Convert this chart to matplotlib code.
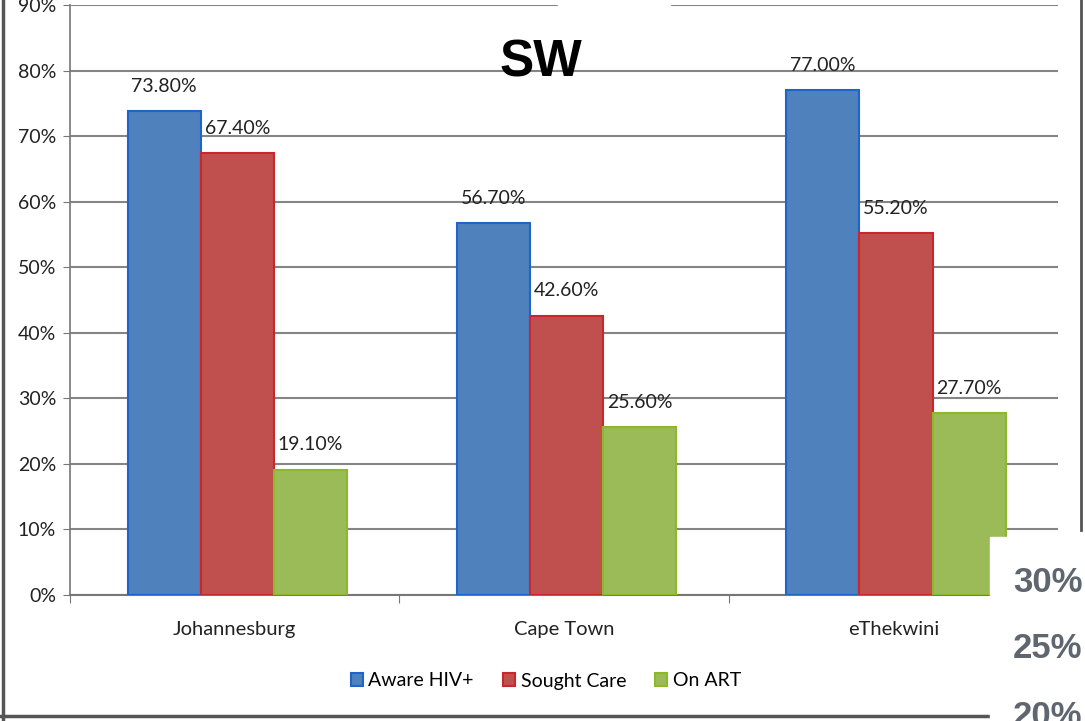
import matplotlib.pyplot as plt
from matplotlib.patches import Rectangle
from matplotlib.lines import Line2D
import numpy as np

cities = ["Johannesburg", "Cape Town", "eThekwini"]
series = ["Aware HIV+", "Sought Care", "On ART"]
aware = [73.8, 56.7, 77.0]
sought = [67.4, 42.6, 55.2]
on_art = [19.1, 25.6, 27.7]
yticks = [0, 10, 20, 30, 40, 50, 60, 70, 80, 90]
overlay_labels = ["30%", "25%", "20%"]

fills = ["#4F81BD", "#C0504D", "#9BBB59"]
edges = ["#1F64C8", "#C8282D", "#8DB82A"]

plt.rcParams['font.family'] = ['Lato', 'DejaVu Sans']

fig = plt.figure(figsize=(10.85, 7.21), dpi=100)
ax = fig.add_axes([70/1085, 126/721, 988/1085, 590/721])

x = np.arange(len(cities))
w = 0.222
for k, vals in enumerate([aware, sought, on_art]):
    pos = x + (k - 1) * w + 0.008
    ax.bar(pos, vals, width=w, color=fills[k], edgecolor=edges[k],
           linewidth=1.5, label=series[k], zorder=3)
    for xp, v in zip(pos, vals):
        ax.text(xp, v + 3.8, f"{v:.2f}%", ha='center', va='center',
                fontsize=14, color='#222222', zorder=4)

ax.set_xlim(-0.5, 2.5)
ax.set_ylim(0, 90)
ax.set_yticks(yticks)
ax.set_yticklabels([f"{t}%" for t in yticks], fontsize=14, color='#222222')
ax.tick_params(axis='y', length=5, color='#777777', pad=5)
ax.yaxis.grid(True, color='#858585', linewidth=1.5, zorder=0)
ax.set_axisbelow(True)

ax.set_xticks([-0.5, 0.5, 1.5, 2.5])
ax.set_xticklabels([])
ax.tick_params(axis='x', which='major', length=6, color='#777777')
ax.set_xticks(x, minor=True)
ax.set_xticklabels(cities, minor=True, fontsize=14.5, color='#222222')
ax.tick_params(axis='x', which='minor', length=0, pad=19)

for s in ['top', 'right']:
    ax.spines[s].set_visible(False)
ax.spines['left'].set_color('#777777')
ax.spines['bottom'].set_color('#777777')
ax.spines['left'].set_linewidth(1.2)
ax.spines['bottom'].set_linewidth(1.5)

fig.legend(loc='center', bbox_to_anchor=(546/1085, 1 - 681/721), ncol=3,
           frameon=False, fontsize=14, handlelength=0.6, handleheight=0.6,
           columnspacing=1.5, handletextpad=0.3)

fig.text(541/1085, 1 - 63/721, "SW", ha='center', va='center',
         fontsize=37, fontweight='bold', family='Liberation Sans', color='black')

# screenshot frame and overlay pieces
fig.add_artist(Rectangle((558/1085, 1 - 10/721), 112/1085, 10/721,
                         transform=fig.transFigure, color='white', zorder=10))
fig.add_artist(Line2D([3/1085, 3/1085], [0, 1], transform=fig.transFigure,
                      color='#555555', linewidth=2.5))
fig.add_artist(Line2D([0, 990/1085], [5/721, 5/721], transform=fig.transFigure,
                      color='#555555', linewidth=2.5))
fig.add_artist(Line2D([1081/1085, 1081/1085], [1 - 530/721, 1],
                      transform=fig.transFigure, color='#555555', linewidth=2))
fig.add_artist(Rectangle((990/1085, 0), 95/1085, 184/721,
                         transform=fig.transFigure, color='white', zorder=10))
for i, lab in enumerate(overlay_labels):
    fig.text(1013/1085, 1 - (582 + 67 * i)/721, lab, ha='left', va='center',
             fontsize=25, fontweight='bold', family='Liberation Sans',
             color='#5F6670', zorder=11)

fig.savefig("out.png", dpi=100)
